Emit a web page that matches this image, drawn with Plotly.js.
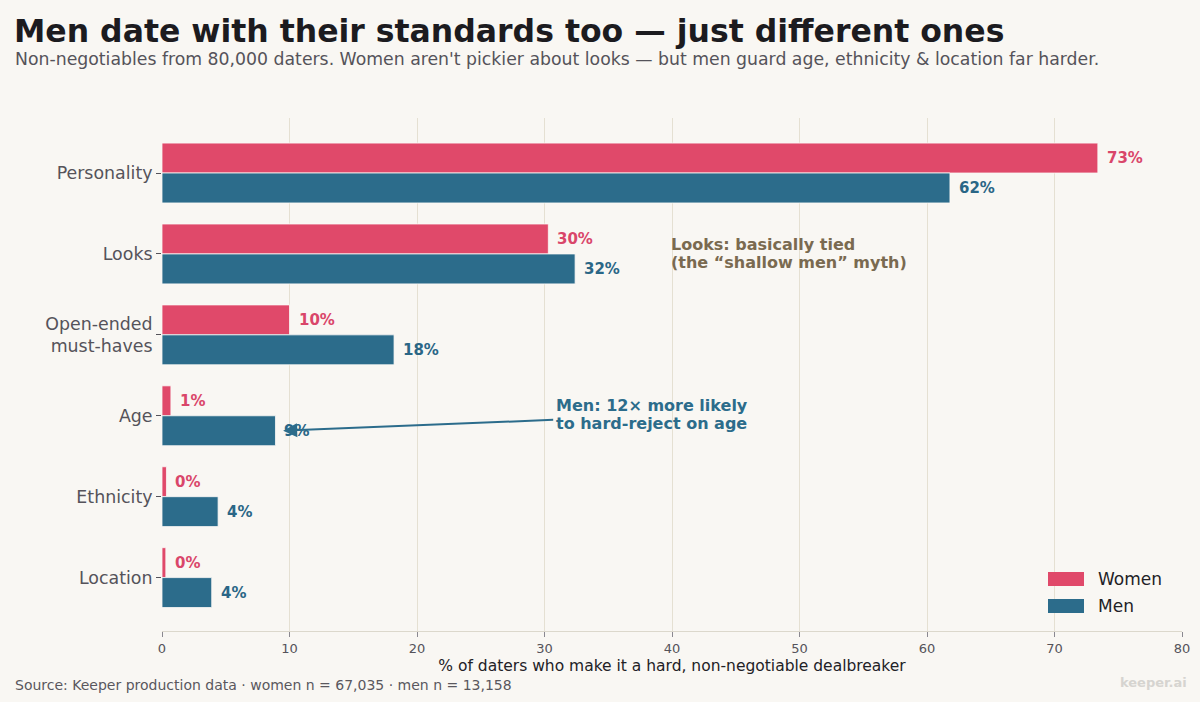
<!DOCTYPE html>
<html>
<head>
<meta charset="utf-8">
<script src="https://cdn.plot.ly/plotly-3.0.1.min.js"></script>
<style>
html,body{margin:0;padding:0;background:#f9f7f3;}
#chart{width:1200px;height:702px;}
</style>
</head>
<body>
<div id="chart"></div>
<script>
const categories = ["Personality", "Looks", "Open-ended<br>must-haves", "Age", "Ethnicity", "Location"];
const womenValues = [73.4, 30.3, 10.0, 0.7, 0.35, 0.3];
const menValues = [61.8, 32.4, 18.2, 8.9, 4.4, 3.9];
const xTicks = [0, 10, 20, 30, 40, 50, 60, 70, 80];
const seriesNames = ["Women", "Men"];

const WOMEN_COLOR = "#e0496a";
const MEN_COLOR = "#2c6c8b";
const WOMEN_TEXT = "#d9466a";
const MEN_TEXT = "#2a6686";
const BG = "#f9f7f3";
const FONT = "DejaVu Sans, Verdana, sans-serif";

const barHalf = 0.185;
const PL = 162, PR = 1182, PT = 118, PB = 631;
const px = v => (v - PL) / (PR - PL);
const py = v => (PB - v) / (PB - PT);

const traces = [
  {
    type: "bar", orientation: "h", name: seriesNames[0],
    x: womenValues, y: categories,
    marker: {color: WOMEN_COLOR, line: {color: "#fbf9f6", width: 0.8}},
    showlegend: false
  },
  {
    type: "bar", orientation: "h", name: seriesNames[1],
    x: menValues, y: categories,
    marker: {color: MEN_COLOR, line: {color: "#fbf9f6", width: 0.8}},
    showlegend: false
  }
];

const annotations = [];
categories.forEach((c, i) => {
  annotations.push({
    x: womenValues[i], y: i - barHalf, xref: "x", yref: "y",
    text: Math.round(womenValues[i]) + "%", showarrow: false,
    xanchor: "left", yanchor: "middle", xshift: 7,
    font: {family: FONT, size: 15, color: WOMEN_TEXT, weight: "bold"}
  });
  annotations.push({
    x: menValues[i], y: i + barHalf, xref: "x", yref: "y",
    text: Math.round(menValues[i]) + "%", showarrow: false,
    xanchor: "left", yanchor: "middle", xshift: 7,
    font: {family: FONT, size: 15, color: MEN_TEXT, weight: "bold"}
  });
});

// Callouts (each line separately for tight line spacing)
const looksLines = ["Looks: basically tied", "(the \u201cshallow men\u201d myth)"];
looksLines.forEach((t, k) => annotations.push({
  x: 40, y: 1, xref: "x", yref: "y", yshift: 9 - k * 18, xshift: -3,
  text: t, showarrow: false, xanchor: "left", yanchor: "middle", align: "left",
  font: {family: FONT, size: 16, color: "#7a6a50", weight: "bold"}
}));
const ageLines = ["Men: 12\u00d7 more likely", "to hard-reject on age"];
ageLines.forEach((t, k) => annotations.push({
  x: 31, y: 3, xref: "x", yref: "y", yshift: 10 - k * 18, xshift: -3,
  text: t, showarrow: false, xanchor: "left", yanchor: "middle", align: "left",
  font: {family: FONT, size: 16, color: MEN_COLOR, weight: "bold"}
}));
annotations.push({
  x: 9.5, y: 3 + barHalf, xref: "x", yref: "y",
  ax: 30.8, ay: 3.05, axref: "x", ayref: "y",
  text: "", showarrow: true, arrowhead: 2, arrowsize: 1.4, arrowwidth: 2,
  arrowcolor: MEN_COLOR, standoff: 0, startstandoff: 0
});

// Legend (custom swatches)
const shapes = [];
[[WOMEN_COLOR, 579], [MEN_COLOR, 606]].forEach(([col, cy], k) => {
  shapes.push({
    type: "rect", xref: "paper", yref: "paper",
    x0: px(1048), x1: px(1084), y0: py(cy + 7), y1: py(cy - 7),
    fillcolor: col, line: {width: 0}
  });
  annotations.push({
    xref: "paper", yref: "paper", x: px(1096), y: py(cy),
    xanchor: "left", yanchor: "middle", showarrow: false,
    text: seriesNames[k],
    font: {family: FONT, size: 17, color: "#222126"}
  });
});

// Subtitle, source, watermark
annotations.push({
  xref: "paper", yref: "paper", x: px(13), y: py(59),
  xanchor: "left", yanchor: "middle", showarrow: false,
  text: "Non-negotiables from 80,000 daters. Women aren't pickier about looks \u2014 but men guard age, ethnicity &amp; location far harder.",
  font: {family: FONT, size: 17.3, color: "#55535a"}
});
annotations.push({
  xref: "paper", yref: "paper", x: px(13), y: py(685),
  xanchor: "left", yanchor: "middle", showarrow: false,
  text: "Source: Keeper production data \u00b7 women n = 67,035 \u00b7 men n = 13,158",
  font: {family: FONT, size: 14, color: "#5a585e"}
});
annotations.push({
  xref: "paper", yref: "paper", x: px(1189), y: py(682),
  xanchor: "right", yanchor: "middle", showarrow: false,
  text: "keeper.ai",
  font: {family: FONT, size: 13, color: "#d6d4d0", weight: "bold"}
});

const layout = {
  width: 1200, height: 702,
  paper_bgcolor: BG, plot_bgcolor: BG,
  margin: {l: PL, r: 1200 - PR, t: PT, b: 702 - PB},
  font: {family: FONT, color: "#55535a"},
  title: {
    text: "Men date with their standards too \u2014 just different ones",
    x: 14 / 1200, xanchor: "left", xref: "container",
    y: 1 - 31 / 702, yanchor: "middle", yref: "container",
    font: {family: FONT, size: 31.5, color: "#1c1b1f", weight: "bold"}
  },
  barmode: "group",
  bargap: 0.26,
  bargroupgap: 0,
  xaxis: {
    range: [0, 80], tickvals: xTicks, ticktext: xTicks.map(String),
    showgrid: true, gridcolor: "#e5e0d2", gridwidth: 1,
    zeroline: false,
    showline: true, linecolor: "#dcd8cc", linewidth: 1,
    ticks: "outside", ticklen: 5, tickcolor: "#8a8890",
    tickfont: {family: FONT, size: 13, color: "#55535a"},
    title: {text: "% of daters who make it a hard, non-negotiable dealbreaker",
            font: {family: FONT, size: 15.5, color: "#222126"}, standoff: 5},
    fixedrange: true
  },
  yaxis: {
    type: "category",
    range: [5.66, -0.68],
    showgrid: false, zeroline: false, showline: false,
    ticks: "outside", ticklen: 5, tickcolor: "#55535a",
    tickfont: {family: FONT, size: 17.4, color: "#55535a"},
    fixedrange: true
  },
  showlegend: false,
  shapes: shapes,
  annotations: annotations
};

Plotly.newPlot("chart", traces, layout, {displayModeBar: false, staticPlot: true});
</script>
</body>
</html>
